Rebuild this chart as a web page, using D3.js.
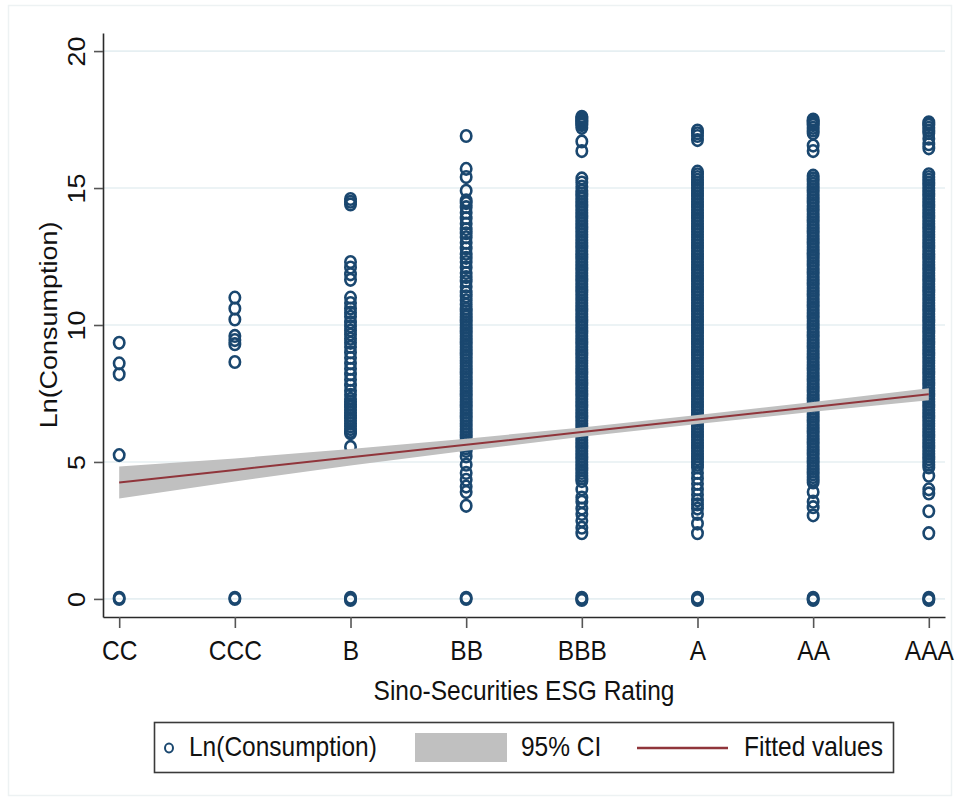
<!DOCTYPE html>
<html>
<head>
<meta charset="utf-8">
<script src="https://cdn.jsdelivr.net/npm/d3@7"></script>
<style>
  body { margin: 0; background: #fff; }
  text { font-family: "Liberation Sans", Arial, sans-serif; fill: #111; }
</style>
</head>
<body>
<script>
// Categories on the x axis
var ratings = ["CC", "CCC", "B", "BB", "BBB", "A", "AA", "AAA"];

var lnCC = [9.35, 8.6, 8.2, 5.25, 0, 0.04];
var lnCCC = [11.0, 10.6, 10.2, 9.6, 9.45, 9.3, 8.65, 0, 0.04];
var lnB = [14.6, 14.5, 14.4, 12.3, 12.1, 11.85, 11.65, 11.0, 10.8, 10.6, 10.45, 10.3, 10.1, 9.95,
  9.8, 9.65, 9.5, 9.35, 9.2, 9.0, 8.8, 8.6, 8.4, 8.2, 8.0, 7.8, 7.6, 7.45, 7.3, 7.2, 7.1, 7.0,
  6.9, 6.8, 6.7, 6.6, 6.5, 6.4, 6.3, 6.2, 6.1, 6.05, 5.55, 0, 0.04, -0.04];
var lnBB = [16.9, 15.7, 15.4, 14.9, 14.55, 14.45, 14.3, 14.1, 13.9, 13.7, 13.5, 13.35, 13.2,
  13.0, 12.8, 12.6, 12.45, 12.3, 12.1, 11.9, 11.75, 11.6, 11.4, 11.2, 11.05, 10.9, 10.75, 10.6,
  10.5, 10.4, 10.3, 10.2, 10.1, 10.0, 9.9, 9.8, 9.7, 9.6, 9.5, 9.4, 9.3, 9.2, 9.1, 9.0,
  8.9, 8.8, 8.7, 8.6, 8.5, 8.4, 8.3, 8.2, 8.1, 8.0, 7.9, 7.8, 7.7, 7.6, 7.5, 7.4, 7.3, 7.2,
  7.1, 7.0, 6.9, 6.8, 6.7, 6.6, 6.5, 6.4, 6.3, 6.2, 6.1, 6.0, 5.9, 5.8, 5.7, 5.6, 5.5, 5.4,
  5.2, 4.9, 4.6, 4.35, 4.1, 3.9, 3.4, 0, 0.04];
var lnBBB = [17.6, 17.55, 17.5, 17.45, 17.4, 17.35, 17.3, 17.2, 16.7, 16.35, 15.35, 15.2, 15.05,
  14.9, 14.8, 14.7, 14.6, 14.5, 14.4, 14.3, 14.2, 14.1, 14.0, 13.9, 13.8, 13.7, 13.6, 13.5,
  13.4, 13.3, 13.2, 13.1, 13.0, 12.9, 12.8, 12.7, 12.6, 12.5, 12.4, 12.3, 12.2, 12.1, 12.0,
  11.9, 11.8, 11.7, 11.6, 11.5, 11.4, 11.3, 11.2, 11.1, 11.0, 10.9, 10.8, 10.7, 10.6, 10.5,
  10.4, 10.3, 10.2, 10.1, 10.0, 9.9, 9.8, 9.7, 9.6, 9.5, 9.4, 9.3, 9.2, 9.1, 9.0, 8.9, 8.8,
  8.7, 8.6, 8.5, 8.4, 8.3, 8.2, 8.1, 8.0, 7.9, 7.8, 7.7, 7.6, 7.5, 7.4, 7.3, 7.2, 7.1, 7.0,
  6.9, 6.8, 6.7, 6.6, 6.5, 6.4, 6.3, 6.2, 6.1, 6.0, 5.9, 5.8, 5.7, 5.6, 5.5, 5.4, 5.3, 5.2,
  5.1, 5.0, 4.9, 4.8, 4.7, 4.6, 4.5, 4.4, 4.3, 4.0, 3.7, 3.55, 3.3, 3.1, 2.85, 2.6, 2.4,
  0, 0.04, -0.04];
var lnA = [17.1, 17.0, 16.9, 16.75, 15.6, 15.5, 15.4, 15.3, 15.2, 15.1, 15.0, 14.9, 14.8, 14.7,
  14.6, 14.5, 14.4, 14.3, 14.2, 14.1, 14.0, 13.9, 13.8, 13.7, 13.6, 13.5, 13.4, 13.3, 13.2,
  13.1, 13.0, 12.9, 12.8, 12.7, 12.6, 12.5, 12.4, 12.3, 12.2, 12.1, 12.0, 11.9, 11.8, 11.7,
  11.6, 11.5, 11.4, 11.3, 11.2, 11.1, 11.0, 10.9, 10.8, 10.7, 10.6, 10.5, 10.4, 10.3, 10.2,
  10.1, 10.0, 9.9, 9.8, 9.7, 9.6, 9.5, 9.4, 9.3, 9.2, 9.1, 9.0, 8.9, 8.8, 8.7, 8.6, 8.5, 8.4,
  8.3, 8.2, 8.1, 8.0, 7.9, 7.8, 7.7, 7.6, 7.5, 7.4, 7.3, 7.2, 7.1, 7.0, 6.9, 6.8, 6.7, 6.6,
  6.5, 6.4, 6.3, 6.2, 6.1, 6.0, 5.9, 5.8, 5.7, 5.6, 5.5, 5.4, 5.3, 5.2, 5.1, 5.0, 4.9, 4.8,
  4.6, 4.4, 4.2, 4.0, 3.8, 3.6, 3.45, 3.3, 3.1, 2.75, 2.4, 0, 0.04, -0.04];
var lnAA = [17.5, 17.45, 17.4, 17.35, 17.3, 17.2, 17.1, 17.0, 16.55, 16.35, 15.45, 15.35, 15.25,
  15.15, 15.05, 14.95, 14.85, 14.75, 14.65, 14.55, 14.45, 14.35, 14.25, 14.15, 14.05, 13.95,
  13.85, 13.75, 13.65, 13.55, 13.45, 13.35, 13.25, 13.15, 13.05, 12.95, 12.85, 12.75, 12.65,
  12.55, 12.45, 12.35, 12.25, 12.15, 12.05, 11.95, 11.85, 11.75, 11.65, 11.55, 11.45, 11.35,
  11.25, 11.15, 11.05, 10.95, 10.85, 10.75, 10.65, 10.55, 10.45, 10.35, 10.25, 10.15, 10.05,
  9.95, 9.85, 9.75, 9.65, 9.55, 9.45, 9.35, 9.25, 9.15, 9.05, 8.95, 8.85, 8.75, 8.65, 8.55,
  8.45, 8.35, 8.25, 8.15, 8.05, 7.95, 7.85, 7.75, 7.65, 7.55, 7.45, 7.35, 7.25, 7.15, 7.05,
  6.95, 6.85, 6.75, 6.65, 6.55, 6.45, 6.35, 6.25, 6.15, 6.05, 5.95, 5.85, 5.75, 5.65, 5.55,
  5.45, 5.35, 5.25, 5.15, 5.05, 4.95, 4.85, 4.75, 4.65, 4.55, 4.45, 4.35, 4.25, 3.9, 3.55,
  3.35, 3.05, 0, 0.04, -0.04];
var lnAAA = [17.4, 17.35, 17.3, 17.2, 17.1, 17.0, 16.8, 16.6, 16.45, 15.5, 15.4, 15.3, 15.2,
  15.1, 15.0, 14.9, 14.8, 14.7, 14.6, 14.5, 14.4, 14.3, 14.2, 14.1, 14.0, 13.9, 13.8, 13.7,
  13.6, 13.5, 13.4, 13.3, 13.2, 13.1, 13.0, 12.9, 12.8, 12.7, 12.6, 12.5, 12.4, 12.3, 12.2,
  12.1, 12.0, 11.9, 11.8, 11.7, 11.6, 11.5, 11.4, 11.3, 11.2, 11.1, 11.0, 10.9, 10.8, 10.7,
  10.6, 10.5, 10.4, 10.3, 10.2, 10.1, 10.0, 9.9, 9.8, 9.7, 9.6, 9.5, 9.4, 9.3, 9.2, 9.1, 9.0,
  8.9, 8.8, 8.7, 8.6, 8.5, 8.4, 8.3, 8.2, 8.1, 8.0, 7.9, 7.8, 7.7, 7.6, 7.5, 7.4, 7.3, 7.2,
  7.1, 7.0, 6.9, 6.8, 6.7, 6.6, 6.5, 6.4, 6.3, 6.2, 6.1, 6.0, 5.9, 5.8, 5.7, 5.6, 5.5, 5.4,
  5.3, 5.2, 5.1, 5.0, 4.9, 4.8, 4.5, 4.0, 3.85, 3.2, 2.4, 0, 0.04, -0.04];

// Linear fit and its 95% CI at each rating
var fitValues = [4.25, 4.71, 5.17, 5.63, 6.09, 6.55, 7.01, 7.47];
var ciLow = [3.67, 4.29, 4.87, 5.41, 5.92, 6.39, 6.83, 7.25];
var ciHigh = [4.83, 5.13, 5.47, 5.85, 6.26, 6.71, 7.19, 7.69];

var yTicks = [0, 5, 10, 15, 20];

// Size of page and plot region
var width = 960, height = 807;
var plotLeft = 103, plotRight = 945, plotTop = 33, plotBottom = 617;

var navy = "#1a476f", maroon = "#90353b", ciGray = "#c0c0c0";
var fontSize = 24.5;

var svg = d3.select('body').append('svg')
.attr('width', width)
.attr('height', height);

// faint outer graph region border
svg.append('rect')
.attr('x', 8.5).attr('y', 5.5)
.attr('width', 943).attr('height', 790)
.style('fill', 'none')
.style('stroke', '#edf2f3')
.style('stroke-width', 1.5);

var x = d3.scalePoint()
.domain(ratings)
.range([plotLeft, plotRight])
.padding(0.14);

var y = d3.scaleLinear()
.domain([-0.66, 20.66])
.range([plotBottom, plotTop]);

// grid lines
svg.append('g').selectAll('line')
.data(yTicks)
.enter().append('line')
.attr('x1', plotLeft).attr('x2', plotRight)
.attr('y1', d => y(d)).attr('y2', d => y(d))
.style('stroke', '#e6eff2')
.style('stroke-width', 1.6);

// scatter of observations
var columns = [lnCC, lnCCC, lnB, lnBB, lnBBB, lnA, lnAA, lnAAA];
var points = [];
ratings.forEach(function(r, i) {
  columns[i].forEach(function(v) { points.push({rating: r, v: v}); });
});

svg.append('g').selectAll('ellipse')
.data(points)
.enter().append('ellipse')
.attr('cx', d => x(d.rating))
.attr('cy', d => y(d.v))
.attr('rx', 5.2)
.attr('ry', 5.8)
.style('fill', 'none')
.style('stroke', navy)
.style('stroke-width', 2.6);

// CI band and fitted line
var idx = d3.range(ratings.length);
var band = d3.area()
.x(i => x(ratings[i]))
.y0(i => y(ciLow[i]))
.y1(i => y(ciHigh[i]));

svg.append('path')
.attr('d', band(idx))
.style('fill', ciGray);

var fitLine = d3.line()
.x(i => x(ratings[i]))
.y(i => y(fitValues[i]));

svg.append('path')
.attr('d', fitLine(idx))
.style('fill', 'none')
.style('stroke', maroon)
.style('stroke-width', 2);

// axes
var yAxis = svg.append('g')
.attr('transform', 'translate(' + plotLeft + ',0)')
.call(d3.axisLeft(y).tickValues(yTicks).tickSize(9).tickSizeOuter(0));

var xAxis = svg.append('g')
.attr('transform', 'translate(0,' + plotBottom + ')')
.call(d3.axisBottom(x).tickSize(11).tickSizeOuter(0));

[xAxis, yAxis].forEach(function(ax) {
  ax.select('.domain').style('stroke', '#2a2a2a').style('stroke-width', 1.6);
  ax.selectAll('.tick line').style('stroke', '#555').style('stroke-width', 1.6);
  ax.selectAll('text')
  .style('font-size', fontSize + 'px')
  .style('font-family', '"Liberation Sans", Arial, sans-serif')
  .style('fill', '#111')
  .attr('x', 0).attr('y', 0).attr('dy', null)
  .attr('text-anchor', 'middle');
});

// y labels are rotated, text a bit stretched vertically like the original
yAxis.selectAll('text')
.attr('transform', 'translate(-18,0) rotate(-90) scale(1.1,1)');

xAxis.selectAll('text')
.attr('transform', 'translate(0,43) scale(1,1.1)');

// axis titles
svg.append('text')
.attr('transform', 'translate(57,325) rotate(-90) scale(1.1,1)')
.attr('text-anchor', 'middle')
.style('font-size', fontSize + 'px')
.text('Ln(Consumption)');

svg.append('text')
.attr('transform', 'translate(' + ((plotLeft + plotRight) / 2) + ',700) scale(1,1.1)')
.attr('text-anchor', 'middle')
.style('font-size', fontSize + 'px')
.text('Sino-Securities ESG Rating');

// legend
var legend = svg.append('g');
legend.append('rect')
.attr('x', 154.5).attr('y', 722.5)
.attr('width', 739).attr('height', 50)
.style('fill', '#fff')
.style('stroke', '#3a3a3a')
.style('stroke-width', 1.6);

legend.append('ellipse')
.attr('cx', 169).attr('cy', 748)
.attr('rx', 4).attr('ry', 4.4)
.style('fill', 'none')
.style('stroke', navy)
.style('stroke-width', 2);

legend.append('rect')
.attr('x', 415).attr('y', 733)
.attr('width', 92).attr('height', 29)
.style('fill', ciGray);

legend.append('line')
.attr('x1', 637).attr('x2', 728)
.attr('y1', 748).attr('y2', 748)
.style('stroke', maroon)
.style('stroke-width', 2.5);

var legendTexts = [
  {x: 189, label: 'Ln(Consumption)'},
  {x: 521, label: '95% CI'},
  {x: 744, label: 'Fitted values'}
];
legend.selectAll('text.lab')
.data(legendTexts)
.enter().append('text')
.attr('class', 'lab')
.attr('transform', d => 'translate(' + d.x + ',756) scale(1,1.1)')
.style('font-size', fontSize + 'px')
.text(d => d.label);
</script>
</body>
</html>
